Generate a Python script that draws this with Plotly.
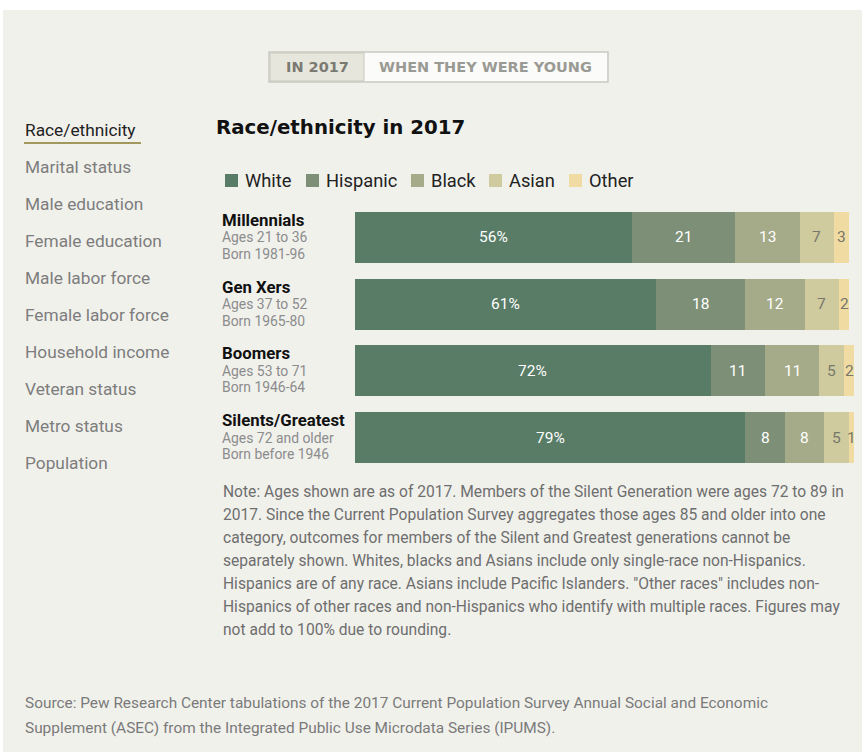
import plotly.graph_objects as go

W, H = 862, 753

generations = ["Millennials", "Gen Xers", "Boomers", "Silents/Greatest"]
ages = ["Ages 21 to 36", "Ages 37 to 52", "Ages 53 to 71", "Ages 72 and older"]
born = ["Born 1981-96", "Born 1965-80", "Born 1946-64", "Born before 1946"]

races = ["White", "Hispanic", "Black", "Asian", "Other"]
white = [56, 61, 72, 79]
hispanic = [21, 18, 11, 8]
black = [13, 12, 11, 8]
asian = [7, 7, 5, 5]
other = [3, 2, 2, 1]
series = [white, hispanic, black, asian, other]

colors = ["#587c66", "#7d9077", "#a5ab89", "#cfcb9f", "#f0dca3"]
label_colors = ["#ffffff", "#ffffff", "#ffffff", "#77776a", "#77776a"]

nav_items = ["Race/ethnicity", "Marital status", "Male education", "Female education",
             "Male labor force", "Female labor force", "Household income",
             "Veteran status", "Metro status", "Population"]

note_lines = [
    "Note: Ages shown are as of 2017. Members of the Silent Generation were ages 72 to 89 in",
    "2017. Since the Current Population Survey aggregates those ages 85 and older into one",
    "category, outcomes for members of the Silent and Greatest generations cannot be",
    "separately shown. Whites, blacks and Asians include only single-race non-Hispanics.",
    "Hispanics are of any race. Asians include Pacific Islanders. \"Other races\" includes non-",
    "Hispanics of other races and non-Hispanics who identify with multiple races. Figures may",
    "not add to 100% due to rounding.",
]
source_lines = [
    "Source: Pew Research Center tabulations of the 2017 Current Population Survey Annual Social and Economic",
    "Supplement (ASEC) from the Integrated Public Use Microdata Series (IPUMS).",
]

FONT = "Roboto"


def px(x):
    return x / W


def py(y):
    return 1 - y / H


fig = go.Figure()
for name, vals, col in zip(races, series, colors):
    fig.add_trace(go.Bar(
        y=generations, x=vals, name=name, orientation="h",
        marker=dict(color=col, line=dict(width=0)),
        hoverinfo="x+name", showlegend=False,
    ))

shapes = []
annotations = []

# background panel
shapes.append(dict(type="rect", xref="paper", yref="paper", layer="below",
                   x0=px(3), x1=1, y0=py(752), y1=py(10),
                   fillcolor="#f1f1ec", line=dict(width=0)))

# toggle buttons
shapes.append(dict(type="rect", xref="paper", yref="paper",
                   x0=px(269), x1=px(608), y0=py(82), y1=py(52),
                   fillcolor="#fbfbf9", line=dict(color="#c9c9c1", width=1.5)))
shapes.append(dict(type="rect", xref="paper", yref="paper",
                   x0=px(270), x1=px(364), y0=py(81), y1=py(53),
                   fillcolor="#e7e6dc", line=dict(color="#c9c9c1", width=1)))
annotations.append(dict(text="<b>IN 2017</b>", xref="paper", yref="paper",
                        x=px(317), y=py(67), showarrow=False, xanchor="center", yanchor="middle",
                        font=dict(family="DejaVu Sans", size=14.5, color="#7a7a72")))
annotations.append(dict(text="<b>WHEN THEY WERE YOUNG</b>", xref="paper", yref="paper",
                        x=px(486), y=py(67), showarrow=False, xanchor="center", yanchor="middle",
                        font=dict(family="DejaVu Sans", size=14.5, color="#9a9a94")))

# left navigation
for i, item in enumerate(nav_items):
    yy = 130 + i * 37
    col = "#222222" if i == 0 else "#7d7d7d"
    annotations.append(dict(text=item, xref="paper", yref="paper", x=px(23), y=py(yy),
                            showarrow=False, xanchor="left", yanchor="middle",
                            font=dict(family=FONT, size=17.3, color=col)))
shapes.append(dict(type="line", xref="paper", yref="paper", x0=px(24), x1=px(141),
                   y0=py(143), y1=py(143), line=dict(color="#a3985c", width=2)))

# title
annotations.append(dict(text="<b>Race/ethnicity in 2017</b>", xref="paper", yref="paper",
                        x=px(214), y=py(128), showarrow=False, xanchor="left", yanchor="middle",
                        font=dict(family="DejaVu Sans", size=19.8, color="#111111")))

# manual legend
leg_x = [225, 306, 411, 489, 569]
for name, col, lx in zip(races, colors, leg_x):
    shapes.append(dict(type="rect", xref="paper", yref="paper",
                       x0=px(lx), x1=px(lx + 13), y0=py(187), y1=py(174),
                       fillcolor=col, line=dict(width=0)))
    annotations.append(dict(text=name, xref="paper", yref="paper", x=px(lx + 18), y=py(180.5),
                            showarrow=False, xanchor="left", yanchor="middle",
                            font=dict(family=FONT, size=18.3, color="#222222")))

# generation labels
for g, a, b in zip(generations, ages, born):
    annotations.append(dict(text="<b>" + g + "</b>", xref="paper", yref="y", x=px(220), y=g,
                            yshift=17.5, showarrow=False, xanchor="left", yanchor="middle",
                            font=dict(family=FONT, size=16.8, color="#111111")))
    annotations.append(dict(text=a, xref="paper", yref="y", x=px(220), y=g,
                            yshift=0, showarrow=False, xanchor="left", yanchor="middle",
                            font=dict(family=FONT, size=13.9, color="#8c8c8c")))
    annotations.append(dict(text=b, xref="paper", yref="y", x=px(220), y=g,
                            yshift=-16.5, showarrow=False, xanchor="left", yanchor="middle",
                            font=dict(family=FONT, size=13.9, color="#8c8c8c")))

# value labels
for gi, g in enumerate(generations):
    cum = 0
    for si, vals in enumerate(series):
        v = vals[gi]
        center = cum + v / 2
        cum += v
        txt = f"{v}%" if si == 0 else f"{v}"
        annotations.append(dict(text=txt, xref="x", yref="y", x=center, y=g,
                                showarrow=False, xanchor="center", yanchor="middle",
                                font=dict(family=FONT, size=15.5, color=label_colors[si])))

# note
for i, line in enumerate(note_lines):
    annotations.append(dict(text=line, xref="paper", yref="paper", x=px(221), y=py(492 + i * 23),
                            showarrow=False, xanchor="left", yanchor="middle",
                            font=dict(family=FONT, size=15.6, color="#6e6e6e")))
# source
for i, line in enumerate(source_lines):
    annotations.append(dict(text=line, xref="paper", yref="paper", x=px(23), y=py(703 + i * 25),
                            showarrow=False, xanchor="left", yanchor="middle",
                            font=dict(family=FONT, size=15.4, color="#7a7a7a")))

fig.update_layout(
    width=W, height=H,
    margin=dict(l=0, r=0, t=0, b=0),
    paper_bgcolor="#ffffff",
    plot_bgcolor="rgba(0,0,0,0)",
    barmode="stack",
    bargap=0.235,
    xaxis=dict(domain=[px(355), px(854)], range=[0, 101], visible=False, fixedrange=True),
    yaxis=dict(domain=[py(471), py(204)], autorange="reversed", visible=False,
               categoryorder="array", categoryarray=generations, fixedrange=True),
    shapes=shapes,
    annotations=annotations,
    font=dict(family=FONT),
)

fig.write_html("out.html")
